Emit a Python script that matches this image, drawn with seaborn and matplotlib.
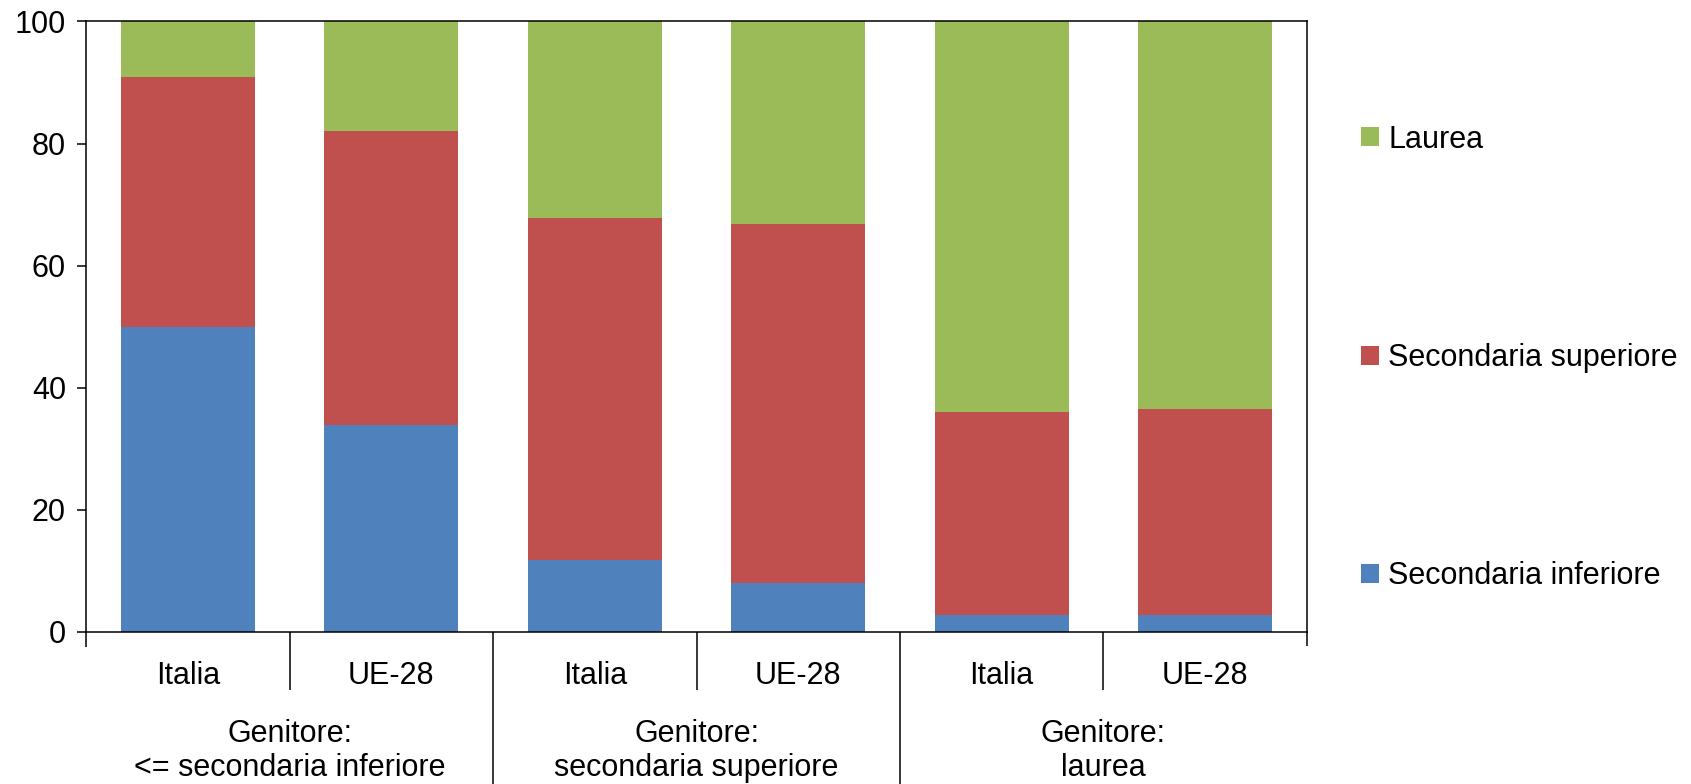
import pandas as pd
import matplotlib
matplotlib.use("Agg")
import matplotlib.pyplot as plt
import matplotlib.transforms as mtransforms
import seaborn as sns

# Data (percent, stacked to 100)
bars = ["Italia", "UE-28", "Italia", "UE-28", "Italia", "UE-28"]
groups = ["Genitore:\n<= secondaria inferiore", "Genitore:\nsecondaria superiore", "Genitore:\nlaurea"]
sec_inferiore = [49.9, 33.9, 11.8, 8.0, 2.7, 2.7]
sec_superiore = [41.0, 48.1, 56.0, 58.8, 33.3, 33.8]
laurea = [9.1, 18.0, 32.2, 33.2, 64.0, 63.5]
series_names = ["Laurea", "Secondaria superiore", "Secondaria inferiore"]
colors = {"Secondaria inferiore": "#4F81BD", "Secondaria superiore": "#C0504D", "Laurea": "#9BBB59"}

sns.set_style("white")
plt.rcParams['font.family'] = ['Liberation Sans', 'DejaVu Sans']
plt.rcParams['text.color'] = 'black'
plt.rcParams['xtick.color'] = 'black'
plt.rcParams['ytick.color'] = 'black'

df = pd.DataFrame({
    "key": [f"{b}_{i}" for i, b in enumerate(bars)],
    "inf": sec_inferiore,
    "sup": sec_superiore,
    "lau": laurea,
})
# cumulative tops for stacked drawing
df["top_inf"] = df["inf"]
df["top_sup"] = df["inf"] + df["sup"]
df["top_lau"] = df["inf"] + df["sup"] + df["lau"]

fig = plt.figure(figsize=(16.91, 7.84), dpi=100)
ax = fig.add_axes([0.0509, 0.194, 0.7220, 0.7786])

for col, name in [("top_lau", "Laurea"), ("top_sup", "Secondaria superiore"), ("top_inf", "Secondaria inferiore")]:
    sns.barplot(data=df, x="key", y=col, color=colors[name], width=0.657,
                linewidth=0, saturation=1, ax=ax, label=name)

ax.set_ylim(0, 100)
ax.set_xlim(-0.5, 5.5)
ax.set_yticks([0, 20, 40, 60, 80, 100])
ax.set_xlabel("")
ax.set_ylabel("")

for s in ax.spines.values():
    s.set_visible(True)
    s.set_color("black")
    s.set_linewidth(1.1)

ax.tick_params(axis="y", direction="out", length=6.5, width=1.1, pad=8, labelsize=22, left=True)
ax.set_xticks(range(6))
ax.set_xticklabels(bars)
ax.tick_params(axis="x", which="major", length=0, pad=21, labelsize=22)

# separators between categories as minor ticks of different lengths
ax.set_xticks([-0.5, 0.5, 1.5, 2.5, 3.5, 4.5, 5.5], minor=True)
lengths = [11, 42, 115, 42, 115, 42, 10]
ax.tick_params(axis="x", which="minor", direction="out", width=1.1, bottom=True)
for t, L in zip(ax.xaxis.get_minor_ticks(), lengths):
    t.tick1line.set_markersize(L)

trans = mtransforms.blended_transform_factory(ax.transData, ax.transAxes)
for i, g in enumerate(groups):
    ax.text(2 * i + 0.5, -0.143, g, transform=trans, ha="center", va="top",
            fontsize=22, linespacing=1.16)

handles, labels = ax.get_legend_handles_labels()
order = [labels.index(n) for n in series_names]
ax.legend([handles[i] for i in order], [labels[i] for i in order],
          loc="center left", bbox_to_anchor=(0.805, 0.5435), bbox_transform=fig.transFigure,
          frameon=False, fontsize=22, labelspacing=6.16, handlelength=0.58, handleheight=0.58,
          handletextpad=0.3, borderpad=0, borderaxespad=0)

fig.savefig("out.png", dpi=100)
